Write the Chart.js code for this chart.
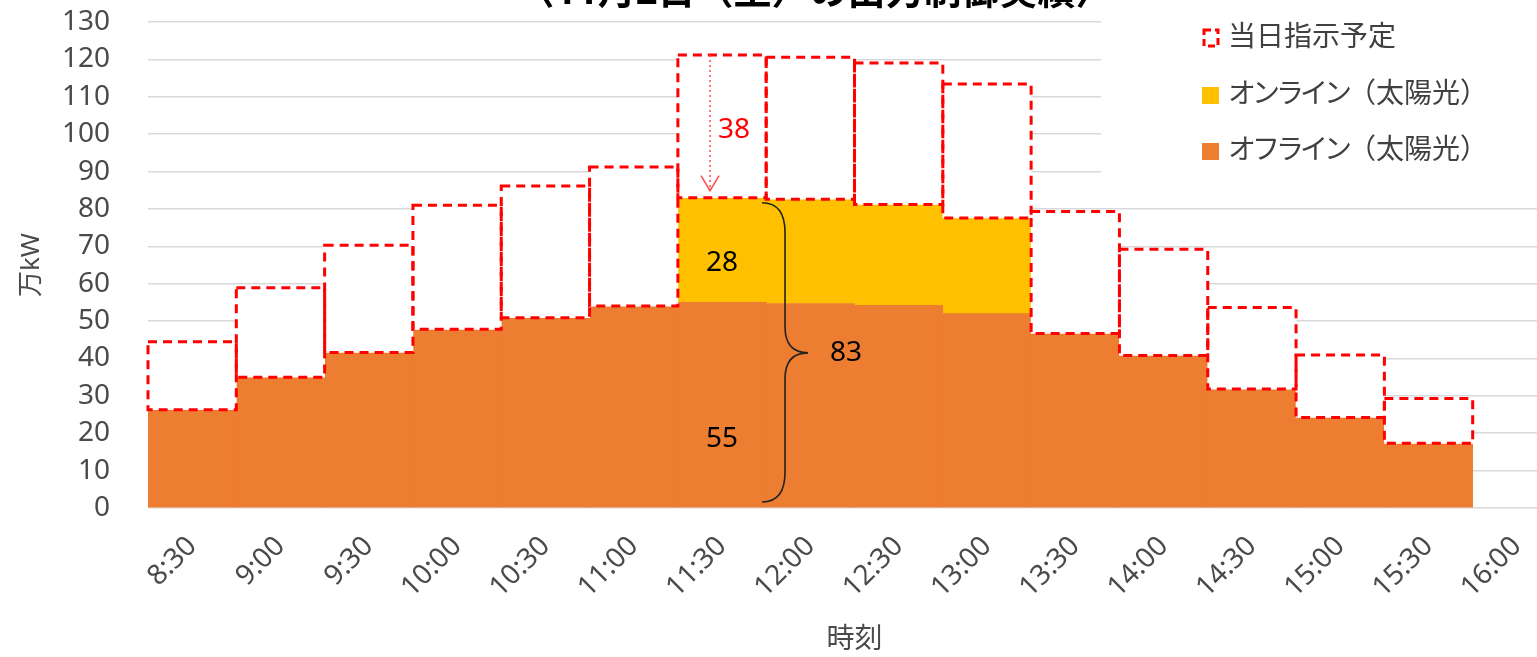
<!DOCTYPE html>
<html>
<head>
<meta charset="utf-8">
<script src="https://cdn.jsdelivr.net/npm/chart.js@4"></script>
<style>
  html, body { margin: 0; padding: 0; background: #fff; overflow: hidden; }
  #wrap { width: 1566px; height: 657px; }
</style>
</head>
<body>
<div id="wrap"><canvas id="chart"></canvas></div>
<script>
const timeLabels = ['8:30', '9:00', '9:30', '10:00', '10:30', '11:00', '11:30', '12:00',
    '12:30', '13:00', '13:30', '14:00', '14:30', '15:00', '15:30', '16:00'];
const offline = [26.3, 35, 41.6, 47.8, 50.9, 54, 55, 54.7, 54.2, 52, 46.7, 40.8, 31.8, 24.2, 17.3];
const online = [0, 0, 0, 0, 0, 0, 28, 27.9, 27, 25.6, 0, 0, 0, 0, 0];
const scheduled = [44.5, 58.9, 70.3, 81, 86.1, 91.2, 121.2, 120.6, 119, 113.4, 79.3, 69.2, 53.6, 40.9, 29.3];
const yTicks = { min: 0, max: 130, step: 10 };

const FONT = "'Noto Sans', 'Noto Sans CJK JP', sans-serif";
const RED = '#FF0000';
const ORANGE = '#ED7D31';
const YELLOW = '#FFC000';

// bottom of each dashed box = what was actually curtailed
const actual = offline.map((v, i) => v + online[i]);
const schedRange = scheduled.map((v, i) => [actual[i], v]);

Chart.defaults.font.family = FONT;
Chart.defaults.color = '#4a4a4a';

// dashed outline for the scheduled boxes
const schedBoxes = {
    id: 'schedBoxes',
    afterDatasetsDraw(chart) {
        const meta = chart.getDatasetMeta(2);
        const ctx = chart.ctx;
        ctx.save();
        ctx.strokeStyle = RED;
        ctx.lineWidth = 3;
        ctx.setLineDash([9, 6]);
        meta.data.forEach(bar => {
            const p = bar.getProps(['x', 'y', 'base', 'width'], true);
            ctx.strokeRect(p.x - p.width / 2, p.y, p.width, p.base - p.y);
        });
        ctx.restore();
    }
};

// arrow, brace and value labels around 11:30
const notes = {
    id: 'notes',
    afterDatasetsDraw(chart) {
        const ctx = chart.ctx;
        const xs = chart.scales.x, ys = chart.scales.y;
        const i = 6;
        const cx = xs.getPixelForValue(i);
        const top = ys.getPixelForValue(scheduled[i]);
        const tot = ys.getPixelForValue(actual[i]);
        const zero = ys.getPixelForValue(0);
        ctx.save();

        // arrow 38
        const ax = cx - 12;
        ctx.strokeStyle = '#FF4B4B';
        ctx.lineWidth = 1.5;
        ctx.setLineDash([2, 3]);
        ctx.beginPath();
        ctx.moveTo(ax, top);
        ctx.lineTo(ax, tot - 7);
        ctx.stroke();
        ctx.setLineDash([]);
        ctx.beginPath();
        ctx.moveTo(ax - 9, tot - 22);
        ctx.lineTo(ax, tot - 7);
        ctx.lineTo(ax + 9, tot - 22);
        ctx.stroke();

        ctx.font = '28px ' + FONT;
        ctx.textBaseline = 'middle';
        ctx.fillStyle = RED;
        ctx.textAlign = 'left';
        ctx.fillText(String(Math.round(scheduled[i] - actual[i])), cx - 4, ys.getPixelForValue(101));

        ctx.fillStyle = '#000';
        ctx.textAlign = 'center';
        ctx.fillText(String(Math.round(online[i])), cx, ys.getPixelForValue(65.5));
        ctx.fillText(String(Math.round(offline[i])), cx, ys.getPixelForValue(18.5));

        // brace
        const x0 = cx + 40, xm = cx + 63, xt = cx + 86;
        const bt = tot + 5, bb = zero - 6, mid = ys.getPixelForValue(actual[i] / 2);
        ctx.strokeStyle = '#222';
        ctx.lineWidth = 1.6;
        ctx.beginPath();
        ctx.moveTo(x0, bt);
        ctx.quadraticCurveTo(xm, bt, xm, bt + 30);
        ctx.lineTo(xm, mid - 26);
        ctx.quadraticCurveTo(xm, mid, xt, mid);
        ctx.quadraticCurveTo(xm, mid, xm, mid + 26);
        ctx.lineTo(xm, bb - 30);
        ctx.quadraticCurveTo(xm, bb, x0, bb);
        ctx.stroke();

        ctx.textAlign = 'left';
        ctx.fillText(String(Math.round(actual[i])), cx + 108, mid);
        ctx.restore();
    }
};

// legend box in the upper right, over the grid
const legendBox = {
    id: 'legendBox',
    afterDatasetsDraw(chart) {
        const ctx = chart.ctx;
        ctx.save();
        ctx.fillStyle = '#fff';
        ctx.fillRect(1101, 0, chart.width - 1101, 205);

        // kana part is drawn a bit tighter, like the narrow kana of the source font
        const items = [
            { parts: ['当日指示予定'], y: 38, dashed: true },
            { parts: ['オンライン', '（太陽光）'], y: 95, color: YELLOW },
            { parts: ['オフライン', '（太陽光）'], y: 151, color: ORANGE }
        ];
        ctx.font = '28px ' + FONT;
        ctx.textBaseline = 'middle';
        ctx.textAlign = 'left';
        items.forEach(it => {
            if (it.dashed) {
                ctx.strokeStyle = RED;
                ctx.lineWidth = 3;
                ctx.setLineDash([7, 4]);
                ctx.strokeRect(1204, it.y - 8, 14, 16);
                ctx.setLineDash([]);
            } else {
                ctx.fillStyle = it.color;
                ctx.fillRect(1202, it.y - 8, 17, 17);
            }
            ctx.fillStyle = '#404040';
            let tx = 1228;
            it.parts.forEach((s, k) => {
                ctx.letterSpacing = (it.parts.length > 1 && k === 0) ? '-4px' : '0px';
                ctx.fillText(s, tx, it.y);
                tx += ctx.measureText(s).width;
            });
        });
        ctx.restore();
    }
};

// title, cut off at the top edge like the source image
const topTitle = {
    id: 'topTitle',
    afterDraw(chart) {
        const ctx = chart.ctx;
        ctx.save();
        ctx.font = 'bold 38px ' + FONT;
        ctx.fillStyle = '#000';
        ctx.textAlign = 'center';
        ctx.textBaseline = 'alphabetic';
        ctx.fillText('〈11月2日（土）の出力制御実績〉', 815, 4);
        ctx.restore();
    }
};

new Chart(document.getElementById('chart'), {
    type: 'bar',
    data: {
        labels: timeLabels,
        datasets: [
            {
                label: 'オフライン（太陽光）',
                data: offline,
                backgroundColor: ORANGE,
                stack: 'real',
                order: 2
            },
            {
                label: 'オンライン（太陽光）',
                data: online,
                backgroundColor: YELLOW,
                stack: 'real',
                order: 2
            },
            {
                label: '当日指示予定',
                data: schedRange,
                backgroundColor: '#fff',
                borderWidth: 0,
                stack: 'plan',
                grouped: false,
                order: 1
            }
        ]
    },
    options: {
        responsive: true,
        maintainAspectRatio: false,
        animation: false,
        layout: { padding: { left: 0, right: 5, top: 22, bottom: 0 } },
        datasets: {
            bar: { categoryPercentage: 1, barPercentage: 1 }
        },
        plugins: {
            legend: { display: false },
            tooltip: { enabled: false }
        },
        scales: {
            x: {
                stacked: true,
                grid: { display: false, drawTicks: false },
                border: { display: false },
                ticks: {
                    autoSkip: false,
                    maxRotation: 45,
                    minRotation: 45,
                    padding: 22,
                    font: { size: 28 }
                },
                title: {
                    display: true,
                    text: '時刻',
                    font: { size: 28 },
                    padding: { top: 0, bottom: 0 }
                },
                afterFit(scale) {
                    scale.height = 149;
                    scale.paddingLeft = 0;
                    scale.paddingRight = 0;
                }
            },
            y: {
                stacked: true,
                min: yTicks.min,
                max: yTicks.max,
                grid: { color: '#D9D9D9', lineWidth: 1.5, drawTicks: false },
                border: { display: false },
                ticks: {
                    stepSize: yTicks.step,
                    padding: 38,
                    font: { size: 28 }
                },
                title: {
                    display: true,
                    text: '万kW',
                    font: { size: 26 },
                    padding: { top: 16, bottom: 0 }
                },
                afterFit(scale) {
                    scale.width = 148;
                    scale.paddingTop = 0;
                    scale.paddingBottom = 0;
                }
            }
        }
    },
    plugins: [schedBoxes, notes, legendBox, topTitle]
});
</script>
</body>
</html>
